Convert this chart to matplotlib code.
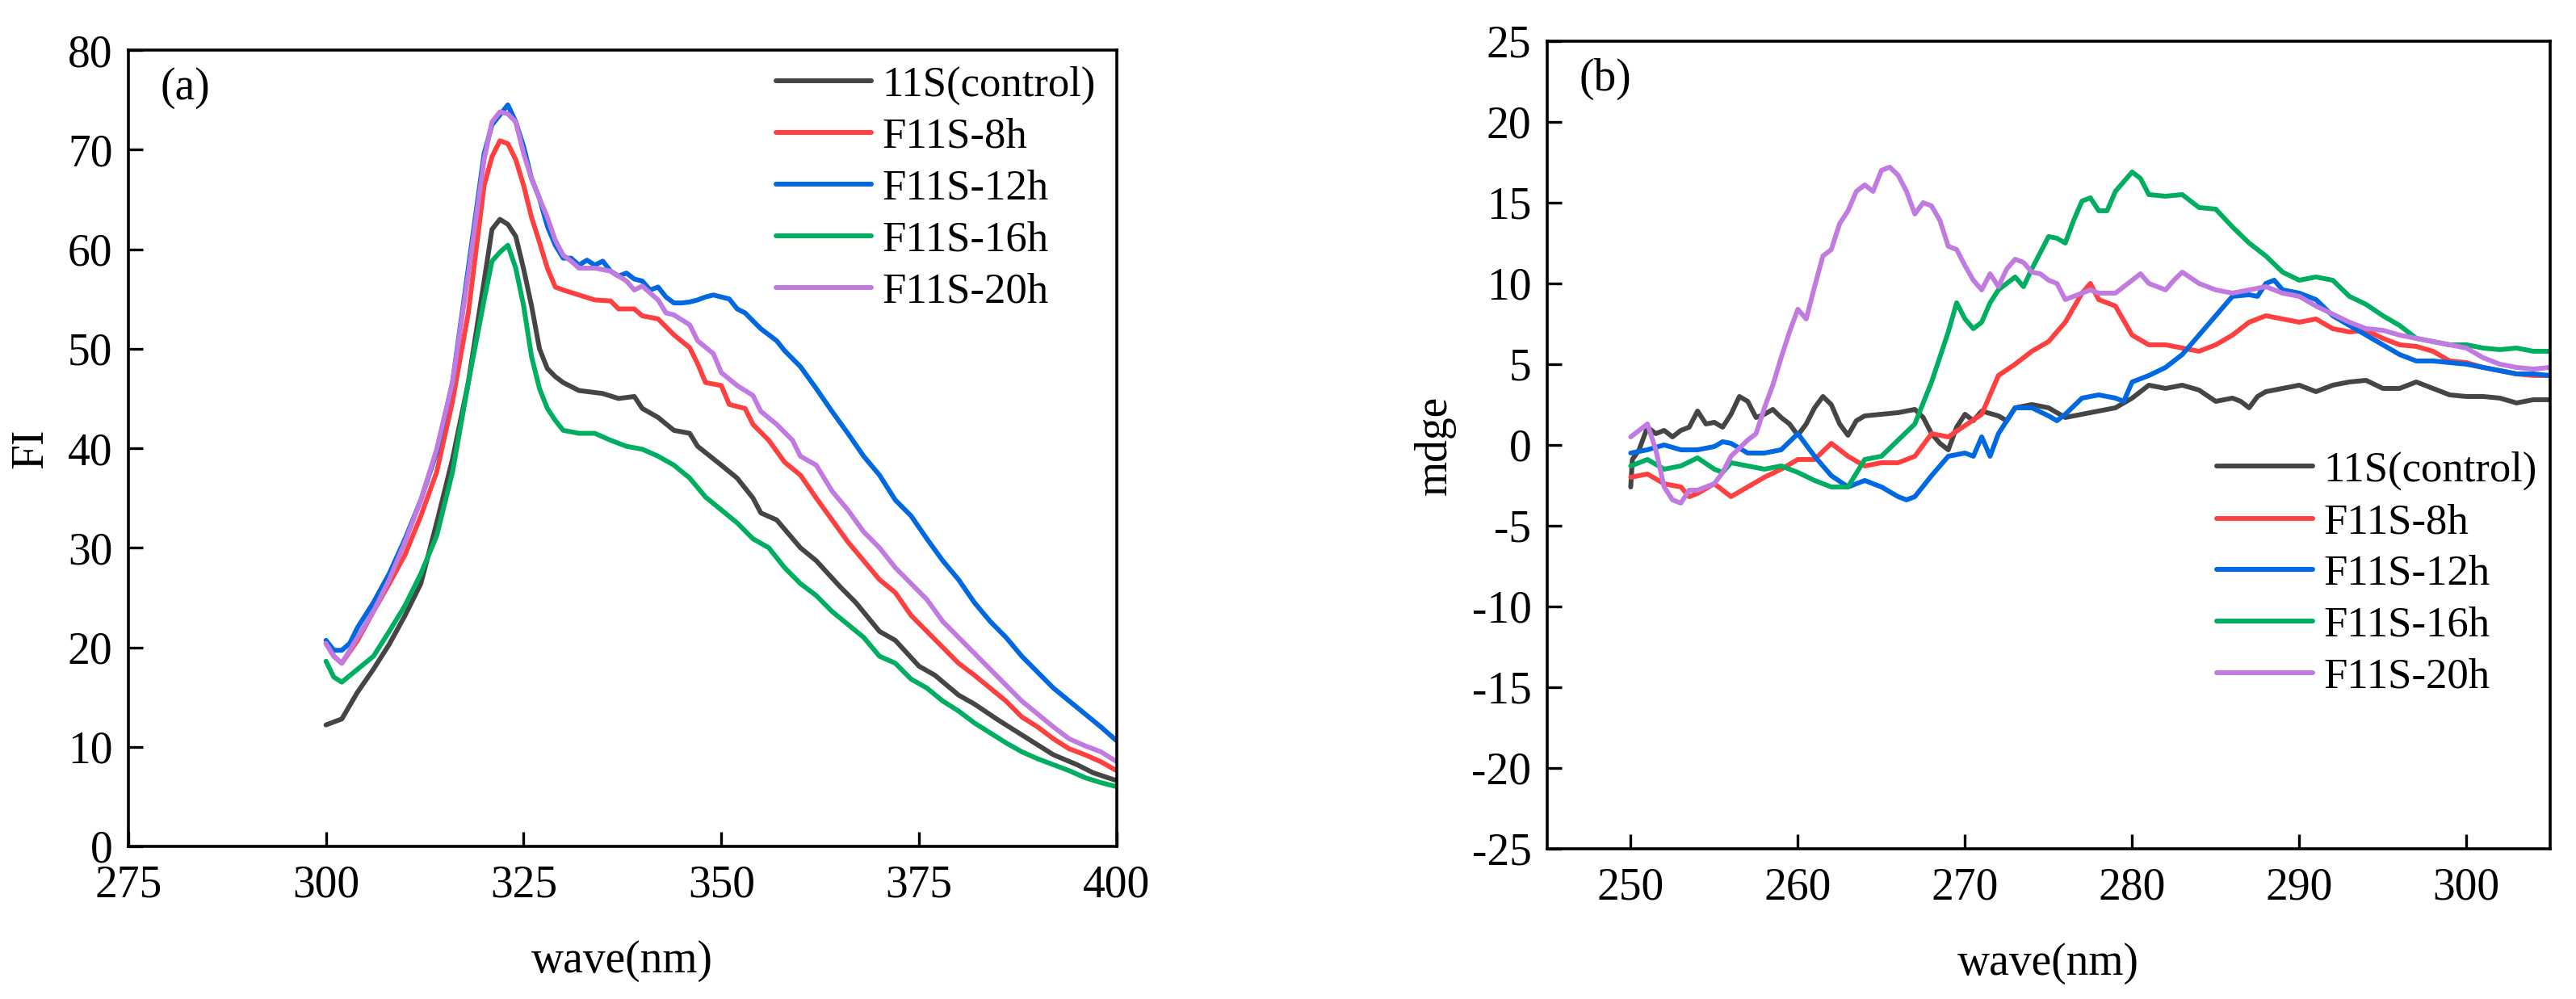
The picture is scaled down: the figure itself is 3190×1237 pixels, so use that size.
import matplotlib
matplotlib.use("Agg")
import matplotlib.pyplot as plt

plt.rcParams['font.family'] = ['Liberation Serif', 'DejaVu Serif']
plt.rcParams['axes.unicode_minus'] = False

labels = ["11S(control)", "F11S-8h", "F11S-12h", "F11S-16h", "F11S-20h"]
colors = ["#454545", "#FF4040", "#0068E0", "#00AE62", "#C07AE0"]

# ---------------- Panel (a): fluorescence ----------------
a_ctrl_x = [300, 302, 304, 306, 308, 310, 312, 314, 316, 318, 320, 321, 322, 323, 324, 325, 326, 327, 328, 329,
            330, 332, 335, 337, 339, 340, 342, 344, 346, 347, 350, 352, 354, 355, 357, 360, 362, 365, 367, 370,
            372, 375, 377, 380, 382, 385, 387, 390, 392, 395, 397, 400]
a_ctrl_y = [12.2, 12.8, 15.5, 17.8, 20.3, 23.2, 26.4, 32.5, 38.9, 46.6, 56.8, 62.0, 63.0, 62.5, 61.3, 58.0, 54.3, 50.0, 48.0, 47.2,
            46.6, 45.8, 45.5, 45.0, 45.2, 44.0, 43.1, 41.8, 41.5, 40.2, 38.3, 37.0, 35.0, 33.5, 32.8, 30.0, 28.7, 26.1, 24.5, 21.6,
            20.7, 18.1, 17.2, 15.2, 14.3, 12.7, 11.7, 10.2, 9.2, 8.2, 7.4, 6.6]

a_8h_x = [300, 301, 302, 304, 306, 308, 310, 312, 314, 316, 318, 320, 321, 322, 323, 324, 325, 326, 327, 328,
          329, 330, 332, 334, 336, 337, 339, 340, 342, 344, 346, 347, 348, 350, 351, 353, 354, 356, 358, 360,
          362, 364, 366, 368, 370, 372, 374, 376, 378, 380, 382, 384, 386, 388, 390, 392, 394, 396, 398, 400]
a_8h_y = [20.4, 19.1, 18.4, 20.7, 23.6, 26.4, 29.3, 33.2, 37.6, 44.7, 53.6, 66.4, 69.3, 70.9, 70.6, 69.0, 66.4, 63.2, 60.7, 58.1,
          56.2, 55.9, 55.4, 54.9, 54.8, 54.0, 54.0, 53.3, 53.0, 51.4, 50.1, 48.5, 46.6, 46.3, 44.4, 44.0, 42.4, 40.8, 38.6, 37.3,
          35.0, 32.8, 30.6, 28.7, 26.8, 25.5, 23.2, 21.6, 20.0, 18.4, 17.2, 15.9, 14.6, 13.0, 12.0, 10.8, 9.8, 9.2, 8.5, 7.6]

a_12h_x = [300, 301, 302, 303, 304, 306, 308, 310, 312, 314, 316, 318, 320, 321, 322, 323, 324, 325, 326, 327,
           328, 329, 330, 331, 332, 333, 334, 335, 336, 337, 338, 339, 340, 341, 342, 343, 344, 345, 346, 347,
           348, 349, 350, 351, 352, 353, 355, 357, 358, 360, 362, 364, 366, 368, 370, 372, 374, 376, 378, 380,
           382, 384, 386, 388, 390, 392, 394, 396, 398, 400]
a_12h_y = [20.7, 19.7, 19.7, 20.4, 22.0, 24.5, 27.4, 30.9, 34.8, 39.6, 46.6, 58.1, 69.6, 72.5, 73.5, 74.5, 72.8, 70.3, 67.1, 65.1,
           62.3, 60.4, 59.1, 59.1, 58.4, 58.9, 58.4, 58.8, 57.8, 57.3, 57.6, 57.0, 56.8, 55.9, 56.2, 55.2, 54.6, 54.6, 54.7, 54.9,
           55.2, 55.4, 55.2, 55.0, 54.0, 53.6, 52.0, 50.8, 49.8, 48.2, 46.0, 43.7, 41.5, 39.2, 37.3, 34.8, 33.2, 30.9, 28.7, 26.8,
           24.5, 22.6, 21.0, 19.1, 17.5, 15.9, 14.6, 13.3, 12.0, 10.6]

a_16h_x = [300, 301, 302, 304, 306, 308, 310, 312, 314, 316, 318, 320, 321, 322, 323, 324, 325, 326, 327, 328,
           329, 330, 332, 334, 336, 338, 340, 342, 344, 346, 348, 350, 352, 354, 356, 358, 360, 362, 364, 366,
           368, 370, 372, 374, 376, 378, 380, 382, 384, 386, 388, 390, 392, 394, 396, 398, 400]
a_16h_y = [18.6, 17.0, 16.5, 17.8, 19.1, 21.6, 24.2, 27.4, 31.2, 37.6, 46.6, 54.9, 58.8, 59.7, 60.4, 58.1, 54.3, 49.2, 46.0, 44.0,
           42.8, 41.8, 41.5, 41.5, 40.8, 40.2, 39.9, 39.2, 38.3, 37.0, 35.1, 33.8, 32.5, 30.9, 30.0, 28.0, 26.4, 25.2, 23.6, 22.3,
           21.0, 19.1, 18.4, 16.8, 15.9, 14.6, 13.6, 12.4, 11.4, 10.4, 9.5, 8.8, 8.2, 7.6, 6.9, 6.4, 6.0]

a_20h_x = [300, 301, 302, 303, 304, 306, 308, 310, 312, 314, 316, 318, 320, 321, 322, 323, 324, 325, 326, 327,
           328, 329, 330, 331, 332, 334, 336, 338, 339, 340, 342, 343, 344, 346, 347, 349, 350, 352, 354, 355,
           357, 359, 360, 362, 364, 366, 368, 370, 372, 374, 376, 378, 380, 382, 384, 386, 388, 390, 392, 394,
           396, 398, 400]
a_20h_y = [20.4, 19.1, 18.4, 19.7, 21.0, 23.6, 26.8, 30.6, 34.8, 39.9, 46.6, 57.5, 69.0, 72.8, 73.8, 73.6, 72.8, 69.6, 67.1, 65.1,
           63.2, 60.9, 59.4, 58.8, 58.1, 58.1, 57.8, 56.8, 55.9, 56.3, 54.9, 53.6, 53.4, 52.4, 50.8, 49.5, 47.6, 46.3, 45.3, 43.7,
           42.4, 40.8, 39.2, 38.3, 35.7, 33.8, 31.6, 30.0, 28.0, 26.4, 24.8, 22.6, 21.0, 19.4, 17.8, 16.2, 14.6, 13.3, 12.0, 10.8,
           10.1, 9.5, 8.5]

# ---------------- Panel (b): CD spectra ----------------
b_ctrl_x = [250, 250.1, 250.5, 251, 251.5, 252, 252.5, 253, 253.5, 254, 254.5, 255, 255.5, 256, 256.5, 257, 257.5, 258,
            258.5, 259, 259.5, 260, 260.5, 261, 261.5, 262, 262.5, 263, 263.5, 264, 265, 266, 267, 267.5, 268, 268.5,
            269, 269.5, 270, 270.5, 271, 272, 272.5, 273, 274, 275, 276, 277, 278, 279, 280, 281, 282, 283, 284, 285,
            286, 286.5, 287, 287.5, 288, 289, 290, 291, 292, 293, 294, 295, 296, 297, 298, 299, 300, 301, 302, 303,
            304, 305]
b_ctrl_y = [-2.6, -0.9, -0.3, 1.1, 0.7, 0.9, 0.5, 0.9, 1.1, 2.1, 1.3, 1.4, 1.1, 1.9, 3.0, 2.7, 1.7, 1.9,
            2.2, 1.7, 1.3, 0.6, 1.3, 2.3, 3.0, 2.5, 1.3, 0.6, 1.5, 1.8, 1.9, 2.0, 2.2, 1.7, 0.7, 0.1,
            -0.3, 1.1, 1.9, 1.5, 2.1, 1.8, 1.5, 2.3, 2.5, 2.3, 1.7, 1.9, 2.1, 2.3, 2.9, 3.7, 3.5, 3.7, 3.4, 2.7,
            2.9, 2.7, 2.3, 3.0, 3.3, 3.5, 3.7, 3.3, 3.7, 3.9, 4.0, 3.5, 3.5, 3.9, 3.5, 3.1, 3.0, 3.0, 2.9, 2.6,
            2.8, 2.8]

b_8h_x = [250, 251, 252, 253, 253.5, 254, 255, 256, 257, 258, 259, 260, 261, 262, 263, 264, 265, 266, 267, 268,
          269, 270, 271, 272, 273, 274, 275, 276, 277, 277.5, 278, 279, 280, 281, 282, 283, 284, 285, 286, 287,
          288, 289, 290, 291, 292, 293, 294, 295, 296, 297, 298, 299, 300, 301, 302, 303, 304, 305]
b_8h_y = [-2.0, -1.8, -2.4, -2.6, -3.2, -3.0, -2.4, -3.2, -2.6, -2.0, -1.5, -0.9, -0.9, 0.1, -0.7, -1.3, -1.1, -1.1, -0.7, 0.7,
          0.5, 1.2, 1.9, 4.3, 5.0, 5.8, 6.4, 7.6, 9.4, 10.0, 9.0, 8.6, 6.8, 6.2, 6.2, 6.0, 5.8, 6.2, 6.8, 7.6,
          8.0, 7.8, 7.6, 7.8, 7.2, 7.0, 7.1, 6.6, 6.2, 6.1, 5.8, 5.2, 5.1, 4.8, 4.6, 4.4, 4.3, 4.3]

b_12h_x = [250, 251, 252, 253, 254, 255, 255.5, 256, 257, 258, 259, 260, 261, 262, 263, 264, 265, 266, 266.5, 267,
           268, 269, 270, 270.5, 271, 271.5, 272, 273, 274, 275, 275.5, 276, 277, 278, 279, 279.5, 280, 281, 282, 283,
           284, 285, 286, 287, 287.5, 288, 288.5, 289, 290, 291, 292, 293, 294, 295, 296, 297, 298, 299, 300, 301,
           302, 303, 304, 305]
b_12h_y = [-0.5, -0.3, 0.0, -0.3, -0.3, -0.1, 0.2, 0.1, -0.5, -0.5, -0.3, 0.7, -0.7, -1.9, -2.6, -2.2, -2.6, -3.2, -3.4, -3.2,
           -1.9, -0.7, -0.5, -0.7, 0.5, -0.7, 0.7, 2.3, 2.3, 1.8, 1.5, 1.9, 2.9, 3.1, 2.9, 2.7, 3.9, 4.3, 4.8, 5.6,
           6.8, 8.0, 9.2, 9.3, 9.2, 10.0, 10.2, 9.6, 9.4, 9.0, 8.0, 7.4, 6.8, 6.2, 5.6, 5.2, 5.2, 5.1, 5.0, 4.8,
           4.6, 4.4, 4.4, 4.3]

b_16h_x = [250, 251, 252, 253, 254, 255, 255.5, 256, 257, 258, 259, 260, 261, 262, 263, 264, 265, 266, 267, 268,
           269, 269.5, 270, 270.5, 271, 271.5, 272, 273, 273.5, 274, 275, 275.5, 276, 276.5, 277, 277.5, 278, 278.5, 279, 280,
           280.5, 281, 282, 283, 284, 285, 286, 287, 288, 289, 290, 291, 292, 293, 294, 295, 296, 297, 298, 299,
           300, 301, 302, 303, 304, 305]
b_16h_y = [-1.3, -0.9, -1.5, -1.3, -0.8, -1.5, -1.7, -1.1, -1.3, -1.5, -1.3, -1.7, -2.2, -2.6, -2.6, -0.9, -0.7, 0.3, 1.3, 3.9,
           7.0, 8.8, 7.8, 7.2, 7.6, 8.8, 9.6, 10.4, 9.8, 10.9, 12.9, 12.8, 12.5, 13.9, 15.1, 15.3, 14.5, 14.5, 15.7, 16.9,
           16.5, 15.5, 15.4, 15.5, 14.7, 14.6, 13.5, 12.5, 11.7, 10.7, 10.2, 10.4, 10.2, 9.2, 8.7, 8.0, 7.4, 6.6, 6.4, 6.2,
           6.2, 6.0, 5.9, 6.0, 5.8, 5.8]

b_20h_x = [250, 250.5, 251, 251.5, 252, 252.5, 253, 253.5, 254, 255, 255.5, 256, 257, 257.5, 258, 258.5, 259, 259.5, 260, 260.5,
           261, 261.5, 262, 262.5, 263, 263.5, 264, 264.5, 265, 265.5, 266, 266.5, 267, 267.5, 268, 268.5, 269, 269.5, 270, 270.5,
           271, 271.5, 272, 272.5, 273, 273.5, 274, 274.5, 275, 275.5, 276, 277, 277.5, 278, 279, 280, 280.5, 281, 282, 282.5,
           283, 284, 285, 286, 287, 288, 289, 290, 291, 292, 293, 294, 295, 296, 297, 298, 299, 300, 301, 302,
           303, 304, 305]
b_20h_y = [0.5, 0.9, 1.3, -0.3, -2.6, -3.4, -3.6, -2.8, -2.8, -2.4, -1.7, -0.7, 0.3, 0.7, 2.3, 3.7, 5.4, 7.0, 8.4, 7.8,
           9.8, 11.7, 12.1, 13.7, 14.5, 15.7, 16.1, 15.7, 17.0, 17.2, 16.7, 15.7, 14.3, 15.0, 14.8, 13.9, 12.3, 12.1, 11.1, 10.2,
           9.6, 10.6, 9.8, 10.9, 11.5, 11.3, 10.7, 10.6, 10.2, 10.0, 9.0, 9.4, 9.6, 9.4, 9.4, 10.2, 10.6, 10.0, 9.6, 10.2,
           10.7, 10.0, 9.6, 9.4, 9.6, 9.8, 9.4, 9.2, 8.6, 8.1, 7.6, 7.2, 7.1, 6.8, 6.6, 6.4, 6.2, 6.0, 5.4, 5.0,
           4.8, 4.7, 4.8]

a_xticks = [275, 300, 325, 350, 375, 400]
a_yticks = [0, 10, 20, 30, 40, 50, 60, 70, 80]
b_xticks = [250, 260, 270, 280, 290, 300]
b_yticks = [-25, -20, -15, -10, -5, 0, 5, 10, 15, 20, 25]

a_series = [(a_ctrl_x, a_ctrl_y), (a_8h_x, a_8h_y), (a_12h_x, a_12h_y), (a_16h_x, a_16h_y), (a_20h_x, a_20h_y)]
b_series = [(b_ctrl_x, b_ctrl_y), (b_8h_x, b_8h_y), (b_12h_x, b_12h_y), (b_16h_x, b_16h_y), (b_20h_x, b_20h_y)]

FS = 40
LW = 4.3

fig = plt.figure(figsize=(31.9, 12.37), dpi=100)
ax1 = fig.add_axes([0.0498, 0.1528, 0.3837, 0.797])
ax2 = fig.add_axes([0.6006, 0.1504, 0.3893, 0.8084])


def style(ax):
    for s in ax.spines.values():
        s.set_linewidth(2.6)
    ax.tick_params(direction='in', length=13, width=2.4, labelsize=FS, top=False, right=False)
    ax.tick_params(axis='y', pad=14)
    ax.tick_params(axis='x', pad=16)


for (x, y), c, lab in zip(a_series, colors, labels):
    ax1.plot(x, y, color=c, lw=LW, label=lab, solid_capstyle='round', solid_joinstyle='round')
ax1.set_xlim(275, 400)
ax1.set_ylim(0, 80)
ax1.set_xticks(a_xticks)
ax1.set_yticks(a_yticks)
style(ax1)
ax1.set_xlabel("wave(nm)", fontsize=FS, labelpad=30)
ax1.set_ylabel("FI", fontsize=FS, labelpad=14)
ax1.text(0.032, 0.952, "(a)", transform=ax1.transAxes, fontsize=FS, ha='left', va='center')
ax1.legend(loc='upper left', bbox_to_anchor=(0.655, 0.98), frameon=False, fontsize=38,
           handlelength=2.25, handletextpad=0.25, labelspacing=0.3, borderpad=0, borderaxespad=0)

for (x, y), c, lab in zip(b_series, colors, labels):
    ax2.plot(x, y, color=c, lw=LW, label=lab, solid_capstyle='round', solid_joinstyle='round')
ax2.set_xlim(245, 305)
ax2.set_ylim(-25, 25)
ax2.set_xticks(b_xticks)
ax2.set_yticks(b_yticks)
style(ax2)
ax2.set_xlabel("wave(nm)", fontsize=FS, labelpad=30)
ax2.set_ylabel("mdge", fontsize=FS, labelpad=14)
ax2.text(0.032, 0.953, "(b)", transform=ax2.transAxes, fontsize=FS, ha='left', va='center')
ax2.legend(loc='upper left', bbox_to_anchor=(0.668, 0.492), frameon=False, fontsize=38,
           handlelength=2.25, handletextpad=0.25, labelspacing=0.3, borderpad=0, borderaxespad=0)

fig.savefig("out.png", dpi=100, facecolor='white')
